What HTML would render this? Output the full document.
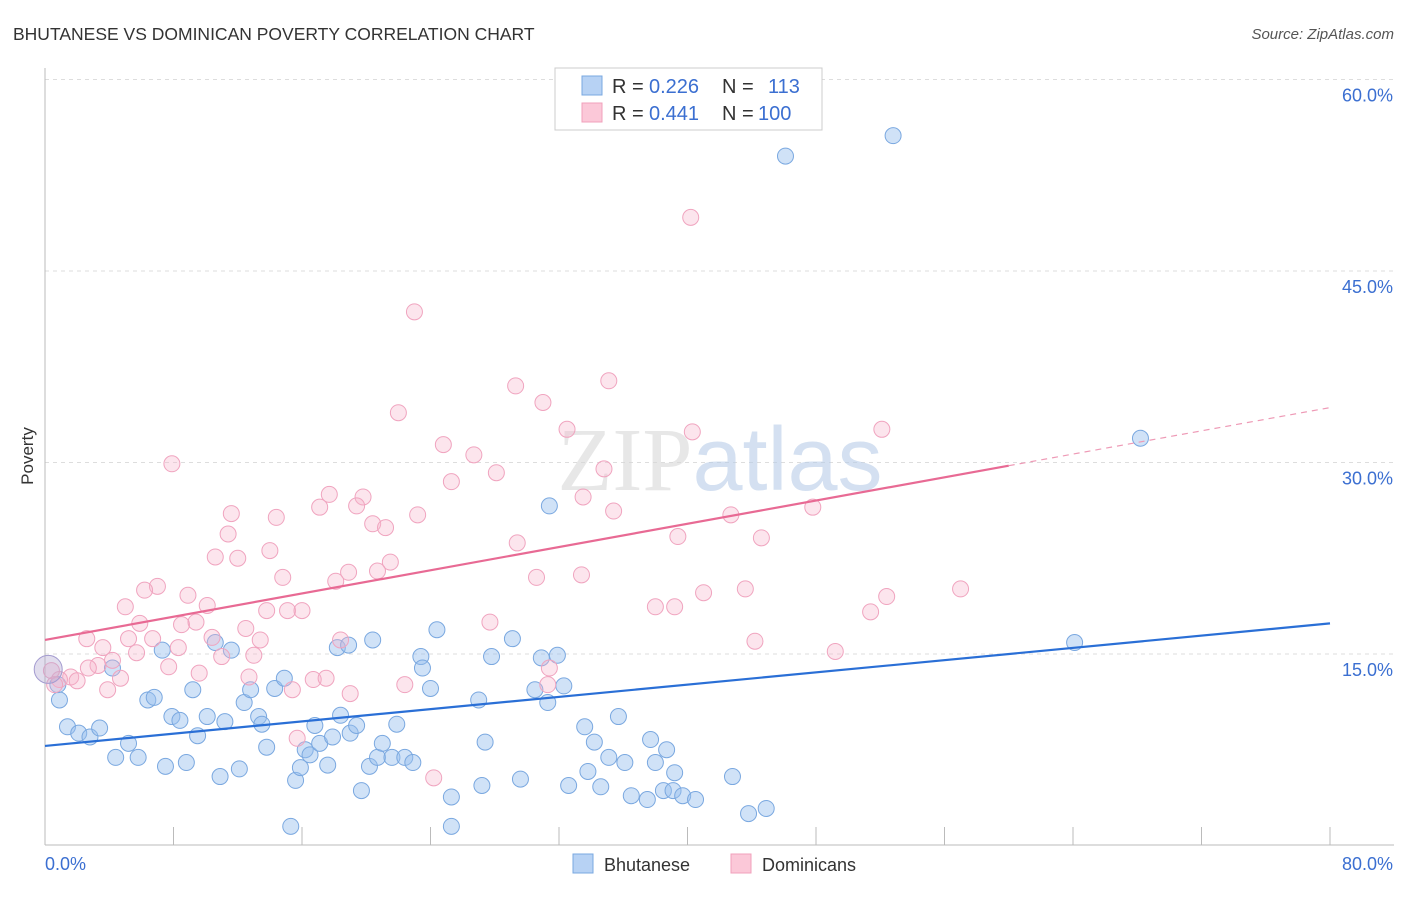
<!DOCTYPE html>
<html><head><meta charset="utf-8"><style>
body{margin:0;background:#fff;font-family:"Liberation Sans",sans-serif;}
svg text{font-family:"Liberation Sans",sans-serif;}
</style></head><body>
<svg id="chart" width="1406" height="892" xmlns="http://www.w3.org/2000/svg">
<text x="13" y="40" font-size="17.5" fill="#333">BHUTANESE VS DOMINICAN POVERTY CORRELATION CHART</text>
<text x="1394" y="39" font-size="15" fill="#555" text-anchor="end" font-style="italic">Source: ZipAtlas.com</text>
<g id="grid"></g>
<text x="720" y="490" font-size="90" text-anchor="middle" fill="#d8d8d8" opacity="0.6"><tspan font-family="Liberation Serif">ZIP</tspan><tspan fill="#b8cde8">atlas</tspan></text>
<g id="marks"></g>
<text transform="translate(33,456) rotate(-90)" font-size="17" fill="#333" text-anchor="middle">Poverty</text>
<g>
<rect x="555" y="68" width="267" height="62" fill="#fff" stroke="#ccc"/>
<rect x="582" y="76" width="20" height="19" fill="#b7d2f4" stroke="#7aa8e0"/>
<rect x="582" y="103" width="20" height="19" fill="#fbc8d8" stroke="#f0a0bb"/>
<text x="612" y="93" font-size="20" fill="#333">R =</text>
<text x="649" y="93" font-size="20" fill="#3b6fd1">0.226</text>
<text x="722" y="93" font-size="20" fill="#333">N =</text>
<text x="768" y="93" font-size="20" fill="#3b6fd1">113</text>
<text x="612" y="120" font-size="20" fill="#333">R =</text>
<text x="649" y="120" font-size="20" fill="#3b6fd1">0.441</text>
<text x="722" y="120" font-size="20" fill="#333">N =</text>
<text x="758" y="120" font-size="20" fill="#3b6fd1">100</text>
</g>
<g>
<rect x="573" y="854" width="20" height="19" fill="#b7d2f4" stroke="#7aa8e0"/>
<text x="604" y="871" font-size="18" fill="#333">Bhutanese</text>
<rect x="731" y="854" width="20" height="19" fill="#fbc8d8" stroke="#f0a0bb"/>
<text x="762" y="871" font-size="18" fill="#333">Dominicans</text>
</g>
</svg>
<script>
const yTicks=[15,30,45,60];
const yTickLabels=["15.0%","30.0%","45.0%","60.0%"];
const xLabels=["0.0%","80.0%"];
const blueX=[52.8,46.1,68.2,64.1,31.4,0.9,0.8,1.4,2.1,2.8,3.4,4.2,4.4,5.2,5.8,6.4,6.8,7.3,7.5,7.9,8.4,8.8,9.2,9.5,10.1,10.6,10.9,11.2,11.6,12.1,12.4,12.8,13.3,13.5,13.8,14.3,14.9,15.3,15.6,15.9,16.2,16.5,16.8,17.1,17.6,17.9,18.4,18.2,18.9,19.0,19.4,19.7,20.2,20.4,20.7,21.0,21.6,21.9,22.4,22.9,23.4,23.5,24.0,24.4,25.3,25.3,27.0,27.2,27.4,27.8,29.1,29.6,30.5,30.9,31.3,31.9,32.3,32.6,33.6,33.8,34.2,34.6,35.1,35.7,36.1,36.5,37.5,37.7,38.0,38.5,38.7,39.2,39.1,39.7,40.5,42.8,43.8,44.9];
const blueY=[55.6,54.0,31.9,15.9,26.6,11.4,12.6,9.3,8.8,8.5,9.2,13.9,6.9,8.0,6.9,11.4,11.6,15.3,6.2,10.1,9.8,6.5,12.2,8.6,10.1,15.9,5.4,9.7,15.3,6.0,11.2,12.2,10.1,9.5,7.7,12.3,13.1,1.5,5.1,6.1,7.5,7.1,9.4,8.0,6.3,8.5,10.2,15.5,15.7,8.8,9.4,4.3,6.2,16.1,6.9,8.0,6.9,9.5,6.9,6.5,14.8,13.9,12.3,16.9,3.8,1.5,11.4,4.7,8.1,14.8,16.2,5.2,12.2,14.7,11.2,14.9,12.5,4.7,9.3,5.8,8.1,4.6,6.9,10.1,6.5,3.9,3.6,8.3,6.5,4.3,7.5,5.7,4.3,3.9,3.6,5.4,2.5,2.9];
const pinkX=[40.2,23.0,35.1,29.3,31.0,22.0,32.5,40.3,52.1,24.8,26.7,7.9,34.8,28.1,25.3,17.7,19.8,33.5,17.1,19.4,35.4,47.8,23.2,42.7,11.6,14.4,20.4,21.2,11.4,39.4,44.6,29.4,14.0,10.6,12.0,21.5,20.7,18.9,14.8,30.6,33.4,18.1,7.0,6.2,43.6,41.0,57.0,8.9,52.4,5.0,10.1,13.8,15.1,16.0,38.0,39.2,51.4,5.9,8.5,9.4,27.7,12.5,10.4,2.6,5.2,6.7,13.4,18.4,44.2,3.6,8.3,5.7,13.0,49.2,11.0,4.2,3.3,2.7,7.7,9.6,31.4,12.7,16.7,17.5,4.7,1.6,2.0,0.9,0.4,0.6,22.4,31.3,3.9,15.4,19.0,15.7,24.2];
const pinkY=[49.2,41.8,36.4,36.0,34.7,33.9,32.6,32.4,32.6,31.4,30.6,29.9,29.5,29.2,28.5,27.5,27.3,27.3,26.5,26.6,26.2,26.5,25.9,25.9,26.0,25.7,25.2,24.9,24.4,24.2,24.1,23.7,23.1,22.6,22.5,22.2,21.5,21.4,21.0,21.0,21.2,20.7,20.3,20.0,20.1,19.8,20.1,19.6,19.5,18.7,18.8,18.4,18.4,18.4,18.7,18.7,18.3,17.4,17.3,17.5,17.5,17.0,16.3,16.2,16.2,16.2,16.1,16.1,16.0,15.5,15.5,15.1,14.9,15.2,14.8,14.5,14.1,13.9,14.0,13.5,13.9,13.2,13.0,13.1,13.1,13.2,12.9,13.0,13.7,12.6,12.6,12.6,12.2,12.2,11.9,8.4,5.3];
const blueTrend=[7.8,17.4];
const pinkTrend=[16.1,34.3];
const pinkSolidEnd=60;
const NS="http://www.w3.org/2000/svg";
const X=v=>45+v*(1285/80);
const Y=v=>845.5-v*(191.5/15);
function mk(tag,attrs,parent){const e=document.createElementNS(NS,tag);for(const k in attrs)e.setAttribute(k,attrs[k]);parent.appendChild(e);return e;}
const grid=document.getElementById('grid');
const marks=document.getElementById('marks');
yTicks.forEach((t,i)=>{
 const l=mk('line',{x1:45,x2:1394,y1:Y(t),y2:Y(t),stroke:'#ddd','stroke-dasharray':'4,4'},grid);
 
 
 const tx=mk('text',{x:1393,y:Y(t)+22,'font-size':18,fill:'#3b6fd1','text-anchor':'end'},grid);
 tx.textContent=yTickLabels[i];
 
 
});
const ax=mk('line',{x1:45,x2:45,y1:68,y2:845,stroke:'#bbb'},grid);


const bx=mk('line',{x1:45,x2:1394,y1:845,y2:845,stroke:'#bbb'},grid);


for(let i=0;i<=10;i++){const t=mk('line',{x1:X(i*8),x2:X(i*8),y1:827,y2:845,stroke:'#bbb'},grid);
 
 }
[[0,'start',45],[80,'end',1393]].forEach((d,i)=>{const t=mk('text',{x:d[2],y:870,'font-size':18,fill:'#3b6fd1','text-anchor':d[1]},grid);t.textContent=xLabels[i];
 
 });
function pts(xs,ys,fill,stroke,name){xs.forEach((x,i)=>{const c=mk('circle',{cx:X(x),cy:Y(ys[i]),r:8,fill:fill,stroke:stroke,'stroke-width':1},marks);
 
 });}
pts(blueX,blueY,'rgba(150,190,238,0.45)','#7aa8e0','bhutanese-point');
pts(pinkX,pinkY,'rgba(246,180,202,0.35)','#f0a4bf','dominican-point');
const big=mk('circle',{cx:X(0.2),cy:Y(13.8),r:14,fill:'rgba(180,170,210,0.4)',stroke:'#a49cd0'},marks);


const bl=mk('line',{x1:X(0),y1:Y(blueTrend[0]),x2:X(80),y2:Y(blueTrend[1]),stroke:'#2a6fd6','stroke-width':2.2},marks);


const pm=pinkTrend[0]+(pinkTrend[1]-pinkTrend[0])*pinkSolidEnd/80;
const pl=mk('line',{x1:X(0),y1:Y(pinkTrend[0]),x2:X(pinkSolidEnd),y2:Y(pm),stroke:'#e86a94','stroke-width':2.2},marks);


const pd=mk('line',{x1:X(pinkSolidEnd),y1:Y(pm),x2:X(80),y2:Y(pinkTrend[1]),stroke:'#ee9ab6','stroke-width':1.2,'stroke-dasharray':'6,5'},marks);


</script>
</body></html>
